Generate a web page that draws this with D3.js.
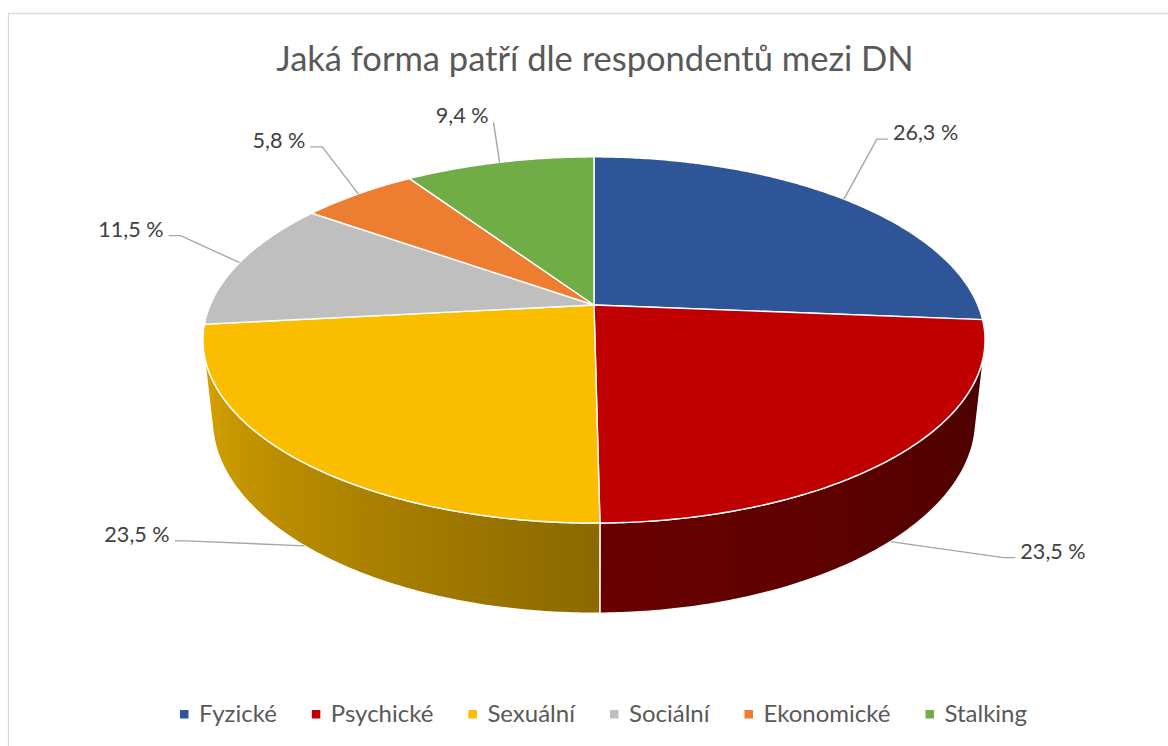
<!DOCTYPE html>
<html>
<head>
<meta charset="utf-8">
<script src="https://cdn.jsdelivr.net/npm/d3@7"></script>
<style>
  body { margin: 0; background: #fff; }
  text { font-family: Lato, "Open Sans", sans-serif; }
</style>
</head>
<body>
<div id="chart"></div>
<script>
// data
const categories = ["Fyzické", "Psychické", "Sexuální", "Sociální", "Ekonomické", "Stalking"];
const values = [26.3, 23.5, 23.5, 11.5, 5.8, 9.4];
const colors = ["#2e5597", "#c00000", "#fabd00", "#bfbfbf", "#ec7d31", "#70ad47"];
const wallBase = ["#2f5597", "#c00000", "#ffc000", "#bfbfbf", "#ed7d31", "#70ad47"];
const title = "Jaká forma patří dle respondentů mezi DN";

// label layout: offset of label edge from leader anchor, elbow length
const labelDx = [49, 130, -135, -76, -53, -11];
const labelDy = [-59, 17, -4, -26, -46, -39];
const elbow = [11, 12, 12, 12, 12, 0];

const W = 1168, H = 746;
const svg = d3.select("#chart").append("svg")
    .attr("width", W)
    .attr("height", H);

// chart frame
svg.append("rect")
    .attr("x", 8.5).attr("y", 13.5)
    .attr("width", W).attr("height", H)
    .attr("fill", "#fff")
    .attr("stroke", "#d9d9d9")
    .attr("stroke-width", 1.3);

// title
svg.append("text")
    .attr("x", 595).attr("y", 71)
    .attr("text-anchor", "middle")
    .attr("font-size", 34.5)
    .attr("fill", "#595959")
    .text(title);

// 3d projection of the pie (perspective)
const cx = 594, cy = 305, S = 383.8;
const tilt = Math.asin(0.4596), D = 4.65, thick = 0.235;
const cosA = Math.cos(tilt), sinA = Math.sin(tilt);

function proj(phi, y, r = 1) {
  const x = r * Math.sin(phi), z = -r * Math.cos(phi);
  const e = z * cosA + y * sinA;
  const u = y * cosA - z * sinA;
  const w = 1 - e / D;
  return [cx + S * x / w, cy - S * u / w];
}

const pie = d3.pie().sort(null).value(d => d)(values);
const visA = Math.acos(-1 / (D * cosA));
const visB = 2 * Math.PI - visA;
const shade = d3.scaleLinear().domain([visA, Math.PI, visB]).range([0.385, 0.55, 0.86]);

function arcPts(a0, a1, y) {
  const n = Math.max(2, Math.ceil(Math.abs(a1 - a0) / 0.01));
  return d3.range(n + 1).map(i => proj(a0 + (a1 - a0) * i / n, y));
}

const line = d3.line();
const defs = svg.append("defs");
const gPie = svg.append("g");

// outer walls (visible front part only)
pie.forEach((p, i) => {
  const a0 = Math.max(p.startAngle, visA), a1 = Math.min(p.endAngle, visB);
  if (a1 <= a0) return;
  const x0 = proj(a0, 0)[0], x1 = proj(a1, 0)[0];
  const base = d3.rgb(wallBase[i]);
  const grad = defs.append("linearGradient")
      .attr("id", "wall" + i)
      .attr("gradientUnits", "userSpaceOnUse")
      .attr("x1", x0).attr("y1", 0).attr("x2", x1).attr("y2", 0);
  d3.range(11).forEach(k => {
    const a = a0 + (a1 - a0) * k / 10;
    const b = shade(a);
    grad.append("stop")
        .attr("offset", (proj(a, 0)[0] - x0) / (x1 - x0))
        .attr("stop-color", d3.rgb(base.r * b, base.g * b, base.b * b));
  });
  const pts = arcPts(a0, a1, 0).concat(arcPts(a1, a0, -thick));
  gPie.append("path")
      .attr("d", line(pts) + "Z")
      .attr("fill", `url(#wall${i})`)
      .attr("stroke", "#fff")
      .attr("stroke-width", 1.4)
      .attr("stroke-linejoin", "round");
});

// top face slices
pie.forEach((p, i) => {
  const pts = [[cx, cy]].concat(arcPts(p.startAngle, p.endAngle, 0));
  gPie.append("path")
      .attr("d", line(pts) + "Z")
      .attr("fill", colors[i])
      .attr("stroke", "#fff")
      .attr("stroke-width", 1.4)
      .attr("stroke-linejoin", "round");
});

// data labels with leader lines
const fmt = v => d3.format(".1f")(v).replace(".", ",") + " %";
pie.forEach((p, i) => {
  const mid = (p.startAngle + p.endAngle) / 2;
  const front = mid > visA && mid < visB;
  const [ax, ay] = proj(mid, front ? -thick : 0);
  const lx = ax + labelDx[i], ly = ay + labelDy[i];
  const side = labelDx[i] > 0 ? 1 : -1;
  const gap = 5;
  const pts = [[ax, ay], [lx - side * (gap + elbow[i]), ly - 1], [lx - side * gap, ly - 1]];
  svg.append("path")
      .attr("d", line(pts))
      .attr("fill", "none")
      .attr("stroke", "#a6a6a6")
      .attr("stroke-width", 1.4);
  svg.append("text")
      .attr("x", lx).attr("y", ly)
      .attr("text-anchor", side > 0 ? "start" : "end")
      .attr("font-size", 21.6)
      .attr("fill", "#404040")
      .text(fmt(values[i]));
});

// legend
const legend = svg.append("g");
const itemGap = 35;
let lxPos = 0;
categories.forEach((c, i) => {
  const g = legend.append("g");
  g.append("rect")
      .attr("x", 0).attr("y", -12)
      .attr("width", 8.5).attr("height", 8.5)
      .attr("fill", colors[i]);
  const t = g.append("text")
      .attr("x", 19).attr("y", 0)
      .attr("font-size", 24)
      .attr("fill", "#595959")
      .text(c);
  const w = 19 + t.node().getComputedTextLength();
  g.attr("transform", `translate(${lxPos},0)`);
  lxPos += w + itemGap;
});
const legW = lxPos - itemGap;
legend.attr("transform", `translate(${603.5 - legW / 2},${722})`);
</script>
</body>
</html>
